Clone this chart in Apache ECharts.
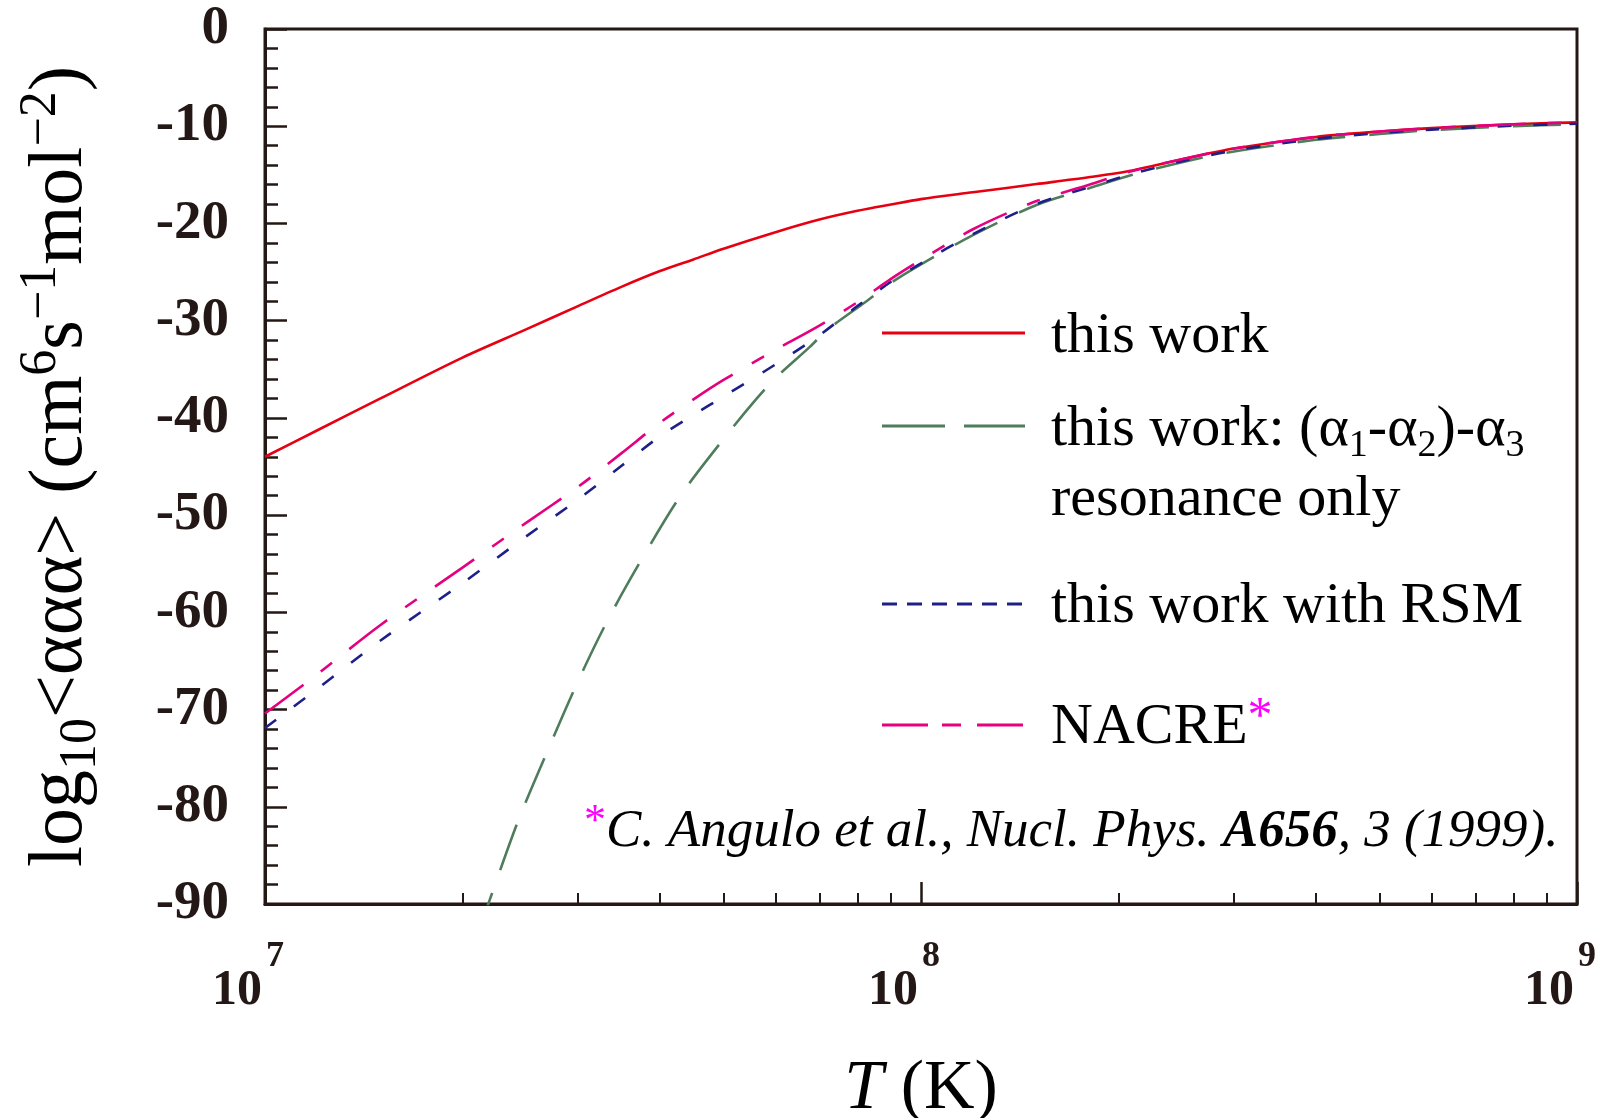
<!DOCTYPE html>
<html>
<head>
<meta charset="utf-8">
<title>log10 ααα rate</title>
<script src="https://cdn.jsdelivr.net/npm/echarts@6/dist/echarts.min.js"></script>
<style>
html, body { margin: 0; padding: 0; background: #fff; }
#main { width: 1611px; height: 1118px; }
</style>
</head>
<body>
<div id="main"></div>
<script>
// temperatures (K) shared by the full curves
var T = [1.0e7, 1.2e7, 1.5e7, 2.0e7, 2.5e7, 3.0e7, 3.5e7, 4.0e7, 4.5e7, 5.0e7, 6.0e7, 7.0e7, 8.0e7, 9.0e7,
         1.0e8, 1.2e8, 1.5e8, 1.8e8, 2.1e8, 2.5e8, 3.0e8, 4.0e8, 5.0e8, 6.0e8, 8.0e8, 1.0e9]

// log10 <aaa>
var thisWork = [-44.0, -41.3, -38.0, -33.8, -30.9, -28.5, -26.5, -24.9, -23.7, -22.6, -20.9, -19.6, -18.7, -18.05,
                -17.5, -16.8, -15.95, -15.25, -14.55, -13.4, -12.3, -11.1, -10.55, -10.2, -9.8, -9.6]
var withRSM = [-71.9, -67.9, -62.9, -57.0, -52.2, -48.4, -44.9, -41.9, -39.7, -37.8, -34.5, -31.5, -28.5, -26.0,
               -24.1, -21.1, -18.0, -16.3, -14.9, -13.6, -12.5, -11.3, -10.7, -10.35, -9.95, -9.75]
var nacre = [-70.4, -66.4, -61.3, -55.4, -50.8, -47.1, -43.6, -40.5, -38.1, -36.1, -33.0, -30.5, -28.1, -25.7,
             -23.75, -20.6, -17.7, -16.05, -14.6, -13.4, -12.3, -11.1, -10.55, -10.2, -9.8, -9.6]

// resonance-only curve starts below the frame
var T_res = [2.1e7, 2.2e7, 2.43e7, 2.69e7, 3.0e7, 3.33e7, 3.77e7, 4.32e7, 5.05e7, 5.62e7, 6.0e7, 6.77e7, 7.18e7, 8.26e7,
             9.0e7, 1.0e8, 1.2e8, 1.5e8, 1.8e8, 2.1e8, 2.5e8, 3.0e8, 4.0e8, 5.0e8, 6.0e8, 8.0e8, 1.0e9]
var resonanceOnly = [-93.5, -89.6, -81.5, -74.4, -67.1, -60.8, -54.3, -47.8, -41.8, -38.0, -35.9, -32.7, -31.0, -28.0,
                     -26.1, -24.2, -21.2, -18.1, -16.4, -15.0, -13.7, -12.6, -11.4, -10.8, -10.4, -10.0, -9.8]

var minorT = [2e7, 3e7, 4e7, 5e7, 6e7, 7e7, 8e7, 9e7, 2e8, 3e8, 4e8, 5e8, 6e8, 7e8, 8e8, 9e8]

var AX = '#231815'
var RED = '#e60012', GREEN = '#4f7d5c', BLUE = '#1d2088', MAGENTA = '#e4007f'
var SERIF = '"Liberation Serif", "Times New Roman", serif'

var pairs = (xs, ys) => xs.map((x, i) => [x, ys[i]])

var chart = echarts.init(document.getElementById('main'))

var gridBox = { left: 265, right: 34, top: 29, bottom: 214, containLabel: false, outerBoundsMode: 'none' }

var option = {
    backgroundColor: '#fff',
    animation: false,
    grid: [
        { ...gridBox, show: true, borderColor: AX, borderWidth: 3, backgroundColor: 'transparent' },
        { ...gridBox, show: false }
    ],
    xAxis: [{
        type: 'log', logBase: 10, min: 1e7, max: 1e9, gridIndex: 0,
        axisLine: { show: true, onZero: false, lineStyle: { color: AX, width: 3 } },
        axisTick: { show: true, inside: true, length: 22, lineStyle: { color: AX, width: 2.5 } },
        splitLine: { show: false },
        minorTick: { show: false },
        axisLabel: {
            margin: 48,
            padding: [0, 34, 0, 0],
            formatter: v => '{b|10}{s|' + Math.round(Math.log10(v)) + '}',
            rich: {
                b: { fontFamily: SERIF, fontWeight: 'bold', fontSize: 50, color: AX, lineHeight: 50, padding: [28, 0, 0, 0] },
                s: { fontFamily: SERIF, fontWeight: 'bold', fontSize: 36, color: AX, lineHeight: 38, padding: [0, 0, 40, 4] }
            }
        },
        name: '{i|T}{n| (K)}',
        nameLocation: 'middle',
        nameGap: 146,
        nameTextStyle: {
            rich: {
                i: { fontFamily: SERIF, fontStyle: 'italic', fontSize: 70, color: '#000', lineHeight: 80 },
                n: { fontFamily: SERIF, fontSize: 70, color: '#000', lineHeight: 80 }
            }
        }
    }, {
        // minor decade ticks
        type: 'log', logBase: 10, min: 1e7, max: 1e9, gridIndex: 1,
        axisLine: { show: false, onZero: false },
        axisLabel: { show: false },
        splitLine: { show: false },
        axisTick: { show: true, inside: true, length: 11, customValues: minorT, lineStyle: { color: AX, width: 2 } }
    }],
    yAxis: [{
        type: 'value', min: -90, max: 0, interval: 10, gridIndex: 0,
        axisLine: { show: true, onZero: false, lineStyle: { color: AX, width: 3 } },
        axisTick: { show: true, inside: true, length: 22, lineStyle: { color: AX, width: 2.5 } },
        minorTick: { show: true, splitNumber: 5, length: 13, lineStyle: { color: AX, width: 2.5 } },
        splitLine: { show: false },
        axisLabel: { margin: 36, fontFamily: SERIF, fontWeight: 'bold', fontSize: 55, color: AX },
        name: '{n|log}{sub|10}{n|<ααα> (cm}{sup|6}{n|s}{sup|−1}{n|mol}{sup|−2}{n|)}',
        nameLocation: 'middle',
        nameRotate: 90,
        nameGap: 158,
        nameTextStyle: {
            rich: {
                n: { fontFamily: SERIF, fontSize: 76, color: '#000', lineHeight: 92 },
                sub: { fontFamily: SERIF, fontSize: 52, color: '#000', lineHeight: 52, verticalAlign: 'bottom' },
                sup: { fontFamily: SERIF, fontSize: 52, color: '#000', lineHeight: 52, verticalAlign: 'top' }
            }
        }
    }, {
        type: 'value', min: -90, max: 0, gridIndex: 1, show: false
    }],
    series: [{
        name: 'this work', type: 'line', symbol: 'none', smooth: 0.3,
        data: pairs(T, thisWork),
        lineStyle: { color: RED, width: 2.6 }
    }, {
        name: 'resonance only', type: 'line', symbol: 'none', smooth: 0.3,
        data: pairs(T_res, resonanceOnly),
        lineStyle: { color: GREEN, width: 2.6, type: [48, 24] }
    }, {
        name: 'this work with RSM', type: 'line', symbol: 'none', smooth: 0.3,
        data: pairs(T, withRSM),
        lineStyle: { color: BLUE, width: 2.6, type: [14, 22] }
    }, {
        name: 'NACRE', type: 'line', symbol: 'none', smooth: 0.3,
        data: pairs(T, nacre),
        lineStyle: { color: MAGENTA, width: 2.6, type: [48, 22, 14, 22] }
    }],
    graphic: [
        // legend
        { type: 'line', shape: { x1: 882, y1: 333, x2: 1025, y2: 333 }, style: { stroke: RED, lineWidth: 3 } },
        { type: 'text', x: 1051, y: 337, style: { text: 'this work', font: '58px ' + SERIF, fill: '#000', verticalAlign: 'middle' } },
        { type: 'line', shape: { x1: 882, y1: 426, x2: 1025, y2: 426 }, style: { stroke: GREEN, lineWidth: 3, lineDash: [63, 19] } },
        { type: 'text', x: 1051, y: 430, style: {
            text: '{n|this work: (α}{s|1}{n|-α}{s|2}{n|)-α}{s|3}', verticalAlign: 'middle',
            rich: {
                n: { fontFamily: SERIF, fontSize: 58, fill: '#000', lineHeight: 70 },
                s: { fontFamily: SERIF, fontSize: 38, fill: '#000', lineHeight: 38, verticalAlign: 'bottom' }
            }
        } },
        { type: 'text', x: 1051, y: 500, style: { text: 'resonance only', font: '58px ' + SERIF, fill: '#000', verticalAlign: 'middle' } },
        { type: 'line', shape: { x1: 882, y1: 604, x2: 1025, y2: 604 }, style: { stroke: BLUE, lineWidth: 3, lineDash: [15, 10] } },
        { type: 'text', x: 1051, y: 607, style: { text: 'this work with RSM', font: '58px ' + SERIF, fill: '#000', verticalAlign: 'middle' } },
        { type: 'line', shape: { x1: 882, y1: 725, x2: 1025, y2: 725 }, style: { stroke: MAGENTA, lineWidth: 3, lineDash: [46, 14, 19, 16] } },
        { type: 'text', x: 1051, y: 728, style: {
            text: '{n|NACRE}{a|*}', verticalAlign: 'middle',
            rich: {
                n: { fontFamily: SERIF, fontSize: 58, fill: '#000', lineHeight: 70 },
                a: { fontFamily: SERIF, fontSize: 50, fill: '#ff00ff', lineHeight: 50, verticalAlign: 'top' }
            }
        } },
        // reference footnote
        { type: 'text', x: 584, y: 832, style: {
            text: '{a|*}{i|C. Angulo et al., Nucl. Phys. }{b|A656}{i|, 3 (1999).}', verticalAlign: 'middle',
            rich: {
                a: { fontFamily: SERIF, fontSize: 44, fill: '#ff00ff', lineHeight: 44, verticalAlign: 'top' },
                i: { fontFamily: SERIF, fontStyle: 'italic', fontSize: 53, fill: '#000', lineHeight: 64 },
                b: { fontFamily: SERIF, fontStyle: 'italic', fontWeight: 'bold', fontSize: 53, fill: '#000', lineHeight: 64 }
            }
        } }
    ]
}

chart.setOption(option)
</script>
</body>
</html>
